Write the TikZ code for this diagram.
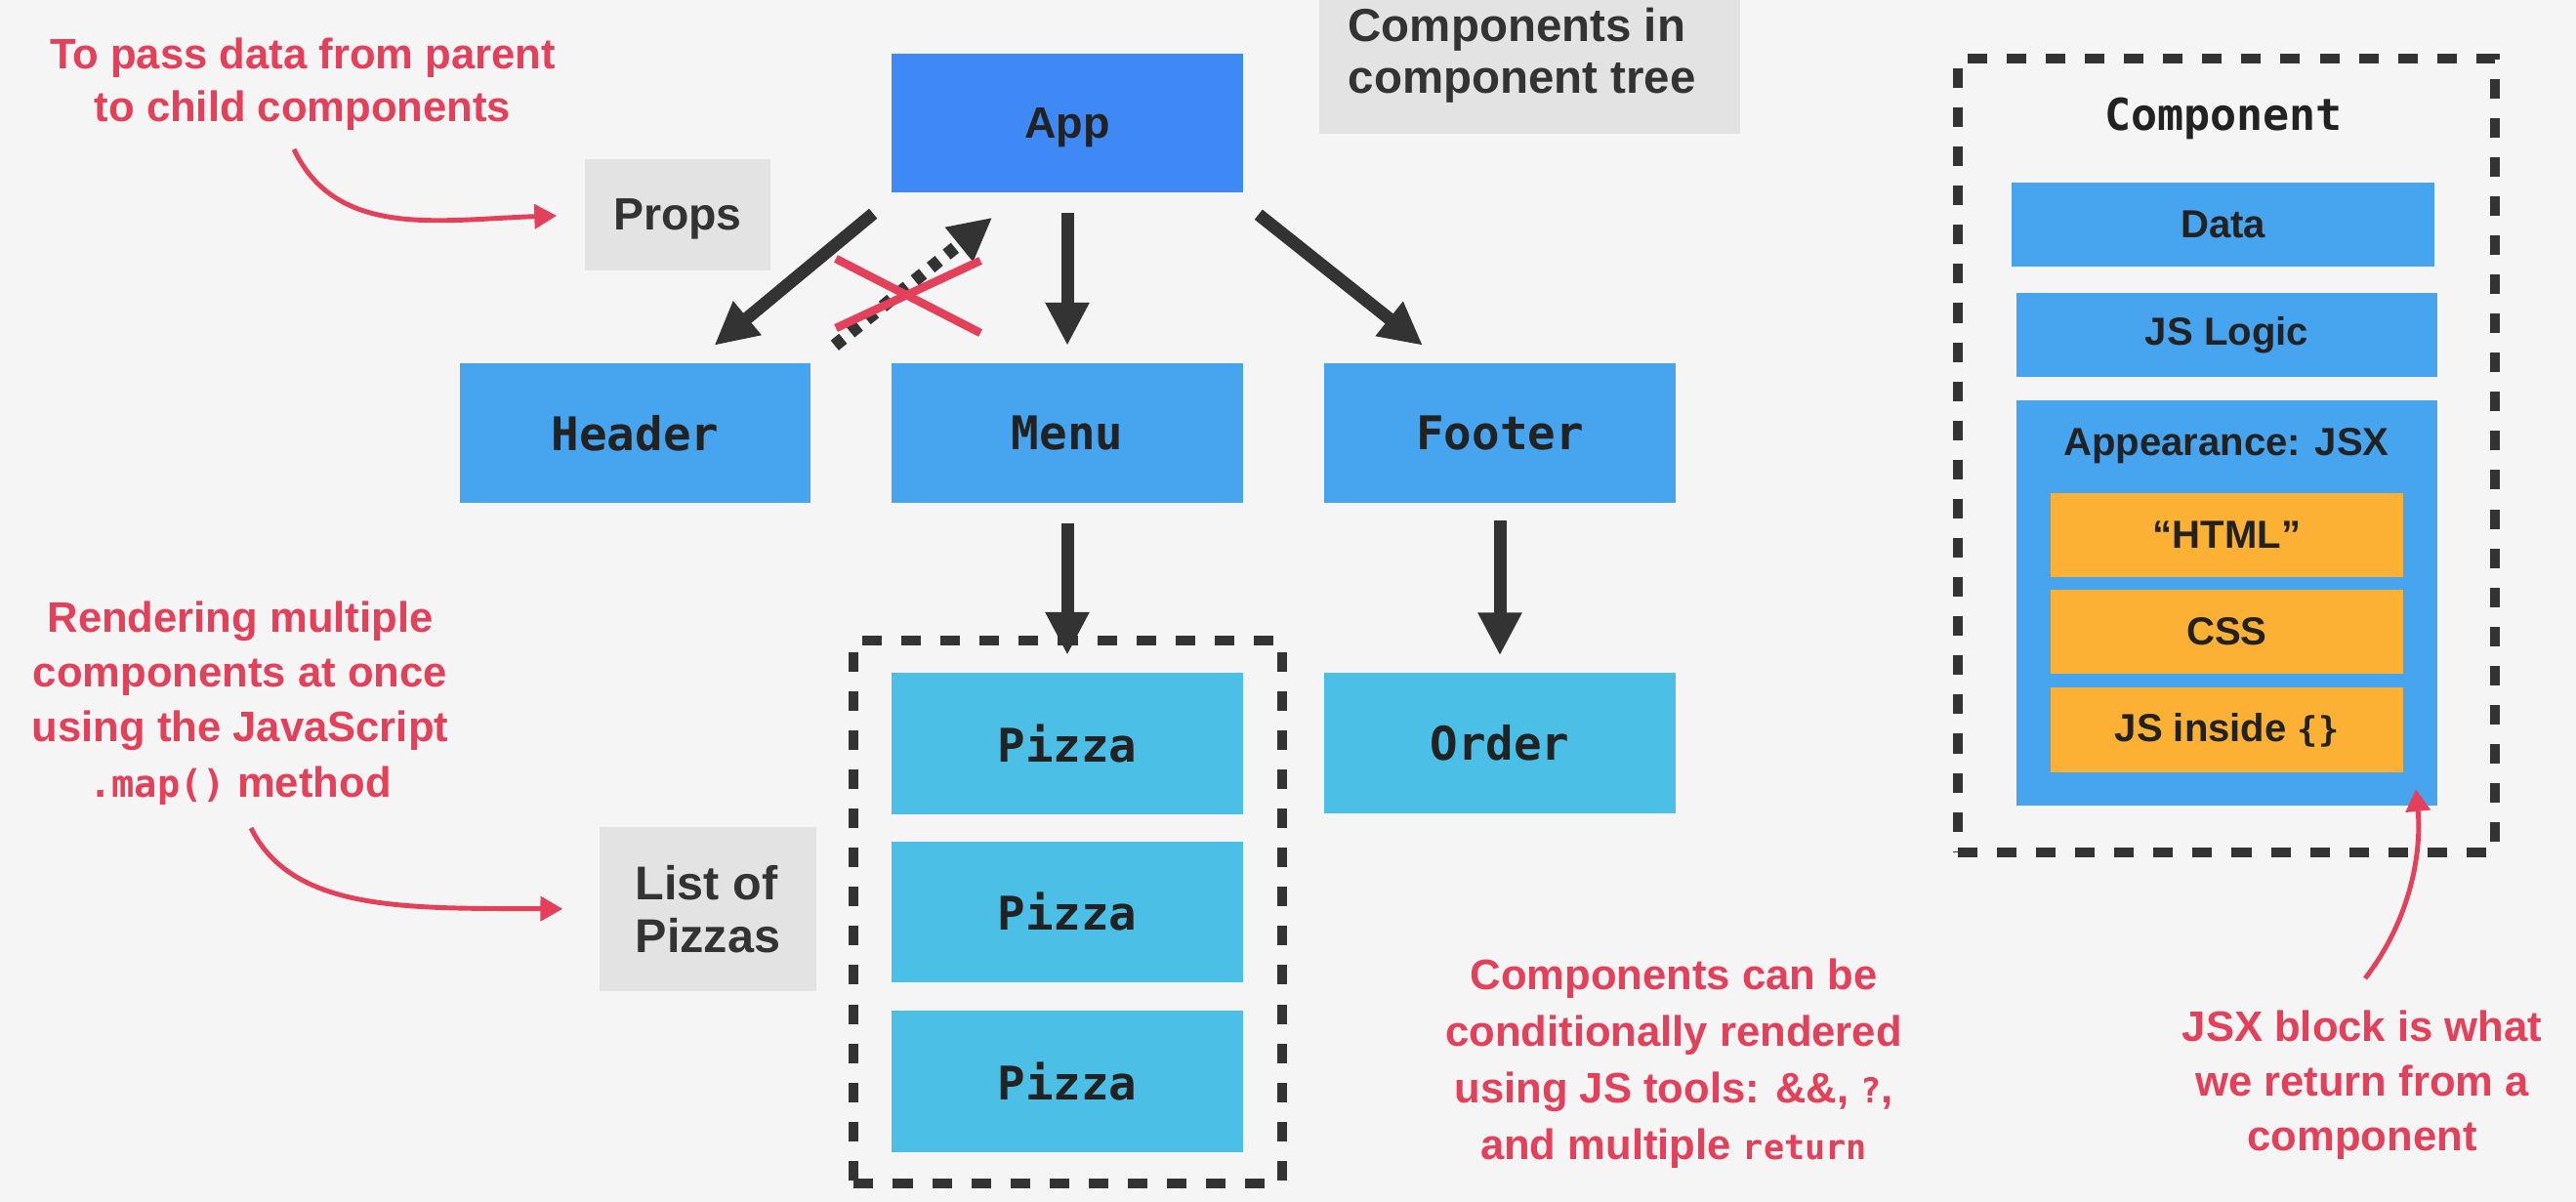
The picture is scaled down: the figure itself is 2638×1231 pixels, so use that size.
\documentclass[tikz,border=0pt]{standalone}
\usepackage{fontspec}
\setmainfont{Liberation Sans}
\newfontfamily\monof{DejaVu Sans Mono}
\usetikzlibrary{arrows.meta,calc}
\definecolor{bgc}{HTML}{F5F5F5}
\definecolor{grayc}{HTML}{E3E3E3}
\definecolor{appc}{HTML}{3E89F6}
\definecolor{bluec}{HTML}{47A4EF}
\definecolor{cyanc}{HTML}{4BBFE6}
\definecolor{orangec}{HTML}{FCB135}
\definecolor{redc}{HTML}{E5405A}
\definecolor{darkc}{HTML}{333333}
\definecolor{txtc}{HTML}{222222}
\begin{document}
\begin{tikzpicture}[x=0.01cm,y=-0.01cm,
  box/.style={rectangle, inner sep=0pt, text=txtc},
  treebox/.style={box, fill=bluec, minimum width=3.59cm, minimum height=1.42cm,
    font=\monof\bfseries\fontsize{13.5pt}{16pt}\selectfont},
  leafbox/.style={treebox, fill=cyanc, minimum height=1.44cm},
  graybox/.style={box, fill=grayc, text=darkc, font=\bfseries\fontsize{13.2pt}{15.1pt}\selectfont},
  innerbox/.style={box, fill=bluec, minimum width=4.31cm, minimum height=0.86cm,
    font=\bfseries\fontsize{11.4pt}{13pt}\selectfont},
  orangebox/.style={box, fill=orangec, minimum width=3.61cm, minimum height=0.86cm,
    font=\bfseries\fontsize{11.4pt}{13pt}\selectfont},
  note/.style={text=redc, align=center, inner sep=0pt, font=\bfseries\fontsize{12.4pt}{16pt}\selectfont},
  treearrow/.style={draw=darkc, line width=3.7pt, -{Triangle[length=12.5pt,width=12pt]}},
  redarrow/.style={draw=redc, line width=1.4pt, -{Triangle[length=6.5pt,width=7pt]}},
  dashbox/.style={draw=darkc, line width=2.85pt, dash pattern=on 5.7pt off 5.7pt, inner sep=0pt}
]
\useasboundingbox (0,0) rectangle (2638,1231);
\clip (0,0) rectangle (2638,1231);
\fill[bgc] (0,0) rectangle (2638,1231);

% component tree
\node[box, fill=appc, minimum width=3.60cm, minimum height=1.42cm, text depth=0pt,
  font=\bfseries\fontsize{12.8pt}{15pt}\selectfont] (app) at (1093,126) {App};
\node[treebox] (header) at (650.5,443.5) {Header};
\node[treebox] (menu) at (1093,443.5) {Menu};
\node[treebox] (footer) at (1536,443.5) {Footer};

\node[dashbox, minimum width=4.38cm, minimum height=5.55cm] (pizzalist) at (1093.5,934) {};
\node[leafbox] (pizza1) at (1093,761.5) {Pizza};
\node[leafbox] (pizza2) at (1093,934) {Pizza};
\node[leafbox] (pizza3) at (1093,1107.5) {Pizza};
\node[leafbox] (order) at (1536,761) {Order};

% gray labels
\node[graybox, minimum width=4.31cm, minimum height=1.77cm] (treebg) at (1566.5,48.5) {};
\node[text=darkc, anchor=west, align=left, inner sep=0pt,
  font=\bfseries\fontsize{13.5pt}{15.1pt}\selectfont] (treetext) at (1380,56.5) {Components in\\component tree};
\node[graybox, minimum width=1.90cm, minimum height=1.14cm, text depth=0pt] (props) at (694,220) {Props};
\node[graybox, minimum width=2.22cm, minimum height=1.68cm, align=left,
  font=\bfseries\fontsize{13.8pt}{15.2pt}\selectfont] (listof) at (725,931) {List of\\Pizzas};

% tree arrows
\coordinate (hs) at ($(app.south west)+(-18,21)$);
\coordinate (ht) at ($(header.north)+(81,-18)$);
\draw[treearrow] (hs) -- (ht);
\draw[treearrow, shorten <=5.7pt, shorten >=5.1pt] (app.south) -- (menu.north);
\coordinate (fs) at ($(app.south east)+(15,22)$);
\coordinate (ft) at ($(footer.north)+(-79,-18)$);
\draw[treearrow] (fs) -- (ft);
\coordinate (us) at ($(header.north east)+(24,-18)$);
\coordinate (ut) at ($(app.south west)+(104,25)$);
\draw[treearrow, dash pattern=on 3.1pt off 2.9pt] (us) -- (ut);
\draw[redc, line width=2.4pt] (856,265) -- (1004,341);
\draw[redc, line width=2.4pt] (856,336) -- (1004,267);
\draw[treearrow, shorten <=6pt, shorten >=5.1pt] (menu.south) -- (pizza1.north);
\draw[treearrow, shorten <=5.1pt, shorten >=4.8pt] (footer.south) -- (order.north);

% component anatomy
\node[dashbox, minimum width=5.50cm, minimum height=8.13cm] (compbox) at (2280,466.5) {};
\node[text=txtc, inner sep=0pt, font=\monof\bfseries\fontsize{12.8pt}{15pt}\selectfont] (comptitle) at (2277,121) {Component};
\node[innerbox, minimum width=4.33cm] (data) at (2276.5,230) {Data};
\node[innerbox] (jslogic) at (2280.5,343) {JS Logic};
\node[innerbox, minimum height=4.15cm] (appearance) at (2280.5,617.5) {};
\node[text=txtc, inner sep=0pt, font=\bfseries\fontsize{11.4pt}{13pt}\selectfont] (apptitle) at (2280,457) {Appearance: JSX};
\node[orangebox] (html) at (2280.5,548) {“HTML”};
\node[orangebox] (css) at (2280.5,647) {CSS};
\node[orangebox] (jsin) at (2280.5,747.5) {JS inside {\monof\bfseries\fontsize{10pt}{12pt}\selectfont\{\}}};

% red notes
\node[note, font=\bfseries\fontsize{12.4pt}{15.4pt}\selectfont] (note1) at (310,86) {To pass data from parent\\to child components};
\node[note] (note2) at (246,720) {Rendering multiple\\components at once\\using the JavaScript\\{\monof\bfseries\fontsize{11pt}{13pt}\selectfont .map()} method};
\node[note, font=\bfseries\fontsize{12.4pt}{16.5pt}\selectfont] (note3) at (1714,1089) {Components can be\\conditionally rendered\\using JS tools: \&\&, {\monof\fontsize{10pt}{12pt}\selectfont ?},\\and multiple {\monof\fontsize{10pt}{12pt}\selectfont return}};
\node[note] (note4) at (2419,1111) {JSX block is what\\we return from a\\component};

% red arrows
\coordinate (p0) at (301,153);
\draw[redarrow, shorten >=8pt] (p0) .. controls (345,245) and (450,225) .. (props.west);
\coordinate (l0) at (257,848);
\draw[redarrow, shorten >=10.5pt] (l0) .. controls (300,935) and (420,930) .. (listof.west);
\coordinate (j0) at (2422,1002);
\coordinate (j1) at (2474,808);
\draw[redarrow] (j0) .. controls (2470,940) and (2480,870) .. (j1);
\end{tikzpicture}
\end{document}
